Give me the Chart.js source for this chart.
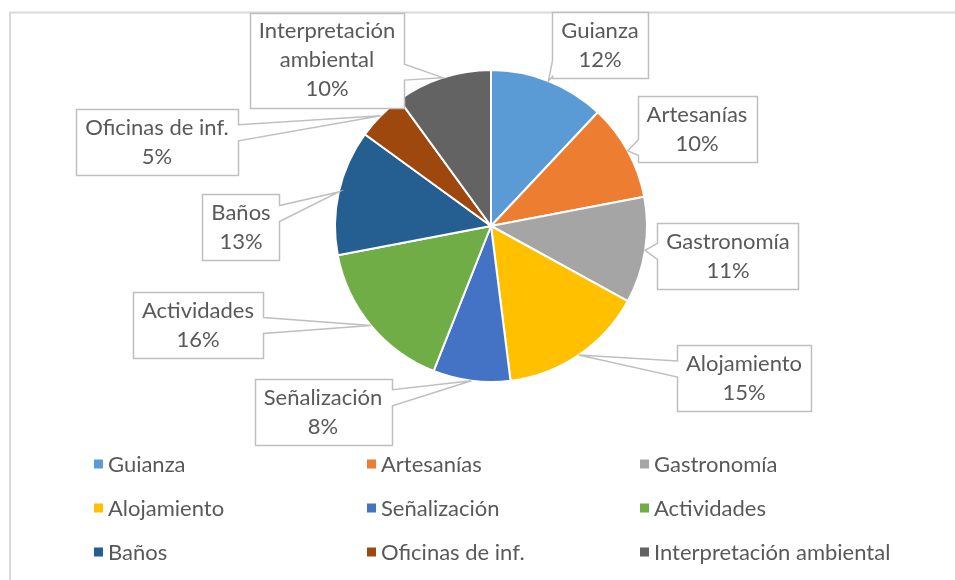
<!DOCTYPE html>
<html>
<head>
<meta charset="utf-8">
<script src="https://cdn.jsdelivr.net/npm/chart.js@4.4.1/dist/chart.umd.min.js"></script>
<style>
html, body { margin: 0; padding: 0; background: #ffffff; }
</style>
</head>
<body>
<canvas id="Pie_Graph" width="955" height="580"></canvas>
<script>
var categories = ['Guianza', 'Artesanías', 'Gastronomía', 'Alojamiento', 'Señalización',
                  'Actividades', 'Baños', 'Oficinas de inf.', 'Interpretación ambiental'];
var values = [12, 10, 11, 15, 8, 16, 13, 5, 10];
var colors = ['#5B9BD5', '#ED7D31', '#A5A5A5', '#FFC000', '#4472C4',
              '#70AD47', '#255E91', '#9E480E', '#636363'];

// where each callout box sits, offset from the pie centre
var calloutOffsets = [[109, -181], [206, -97], [237, 30], [253, 152], [-168, 186],
                      [-293, 99], [-250, 1], [-334, -84], [-164, -166]];

var FONT = '22px Lato';
var TEXT_COLOR = '#595959';
var LINE_H = 29;

function wrapText(ctx, text, maxW) {
    if (ctx.measureText(text).width <= maxW) return [text];
    var words = text.split(' '), out = [], cur = '';
    words.forEach(function (w) {
        var t = cur ? cur + ' ' + w : w;
        if (cur && ctx.measureText(t).width > maxW) { out.push(cur); cur = w; }
        else cur = t;
    });
    if (cur) out.push(cur);
    return out;
}

function calloutPath(ctx, x0, y0, x1, y1, ax, ay) {
    var cx = (x0 + x1) / 2, cy = (y0 + y1) / 2;
    var hw = (x1 - x0) / 2, hh = (y1 - y0) / 2;
    var dx = ax - cx, dy = ay - cy;
    var inside = Math.abs(dx) <= hw && Math.abs(dy) <= hh;
    var tx = dx === 0 ? Infinity : hw / Math.abs(dx);
    var ty = dy === 0 ? Infinity : hh / Math.abs(dy);
    var edge, b, half = 8;
    if (tx < ty) { edge = dx > 0 ? 'r' : 'l'; b = cy + dy * tx; b = Math.min(Math.max(b, y0 + half + 2), y1 - half - 2); }
    else { edge = dy > 0 ? 'b' : 't'; b = cx + dx * ty; b = Math.min(Math.max(b, x0 + half + 2), x1 - half - 2); }
    ctx.beginPath();
    ctx.moveTo(x0, y0);
    if (!inside && edge === 't') { ctx.lineTo(b - half, y0); ctx.lineTo(ax, ay); ctx.lineTo(b + half, y0); }
    ctx.lineTo(x1, y0);
    if (!inside && edge === 'r') { ctx.lineTo(x1, b - half); ctx.lineTo(ax, ay); ctx.lineTo(x1, b + half); }
    ctx.lineTo(x1, y1);
    if (!inside && edge === 'b') { ctx.lineTo(b + half, y1); ctx.lineTo(ax, ay); ctx.lineTo(b - half, y1); }
    ctx.lineTo(x0, y1);
    if (!inside && edge === 'l') { ctx.lineTo(x0, b + half); ctx.lineTo(ax, ay); ctx.lineTo(x0, b - half); }
    ctx.closePath();
}

var framePlugin = {
    id: 'frame',
    beforeDraw: function (chart) {
        var ctx = chart.ctx;
        ctx.save();
        ctx.strokeStyle = '#d9d9d9';
        ctx.lineWidth = 2;
        ctx.beginPath();
        ctx.moveTo(10, chart.height + 2);
        ctx.lineTo(10, 12.5);
        ctx.lineTo(chart.width + 2, 12.5);
        ctx.stroke();
        ctx.restore();
    }
};

var calloutPlugin = {
    id: 'callouts',
    afterDatasetsDraw: function (chart) {
        var ctx = chart.ctx;
        var meta = chart.getDatasetMeta(0);
        var total = values.reduce(function (a, b) { return a + b; }, 0);
        ctx.save();
        ctx.font = FONT;
        ctx.textAlign = 'center';
        ctx.textBaseline = 'middle';
        meta.data.forEach(function (arc, i) {
            var p = arc.getProps(['x', 'y', 'startAngle', 'endAngle', 'outerRadius'], true);
            var mid = (p.startAngle + p.endAngle) / 2;
            var ax = p.x + Math.cos(mid) * p.outerRadius;
            var ay = p.y + Math.sin(mid) * p.outerRadius;
            var lines = wrapText(ctx, categories[i], 175);
            lines.push(Math.round(values[i] / total * 100) + '%');
            var w = 0;
            lines.forEach(function (l) { w = Math.max(w, ctx.measureText(l).width); });
            var bw = w + 18, bh = lines.length * LINE_H + 8;
            var bx = p.x + calloutOffsets[i][0], by = p.y + calloutOffsets[i][1];
            var x0 = Math.round(bx - bw / 2) + 0.5, y0 = Math.round(by - bh / 2) + 0.5;
            calloutPath(ctx, x0, y0, x0 + Math.round(bw), y0 + Math.round(bh), ax, ay);
            ctx.fillStyle = '#ffffff';
            ctx.fill();
            ctx.strokeStyle = '#bfbfbf';
            ctx.lineWidth = 1.5;
            ctx.stroke();
            ctx.fillStyle = TEXT_COLOR;
            var ty0 = by - (lines.length - 1) * LINE_H / 2;
            lines.forEach(function (l, k) { ctx.fillText(l, bx, ty0 + k * LINE_H); });
        });
        ctx.restore();
    }
};

var legendPlugin = {
    id: 'gridLegend',
    afterDraw: function (chart) {
        var ctx = chart.ctx;
        ctx.save();
        ctx.font = FONT;
        ctx.textAlign = 'left';
        ctx.textBaseline = 'middle';
        categories.forEach(function (name, i) {
            var col = i % 3, row = Math.floor(i / 3);
            var x = 94 + col * 273, y = 464 + row * 44;
            ctx.fillStyle = colors[i];
            ctx.fillRect(x, y - 4.5, 9, 9);
            ctx.fillStyle = TEXT_COLOR;
            ctx.fillText(name, x + 14, y + 1);
        });
        ctx.restore();
    }
};

var ctx = document.getElementById('Pie_Graph').getContext('2d');
var chart = new Chart(ctx, {
    type: 'pie',
    data: {
        labels: categories,
        datasets: [{
            data: values,
            backgroundColor: colors,
            borderColor: '#ffffff',
            borderWidth: 2
        }]
    },
    options: {
        responsive: false,
        animation: false,
        layout: { padding: { left: 334, right: 307, top: 68, bottom: 196 } },
        plugins: {
            legend: { display: false },
            tooltip: { enabled: false }
        }
    },
    plugins: [framePlugin, calloutPlugin, legendPlugin]
});
</script>
</body>
</html>
